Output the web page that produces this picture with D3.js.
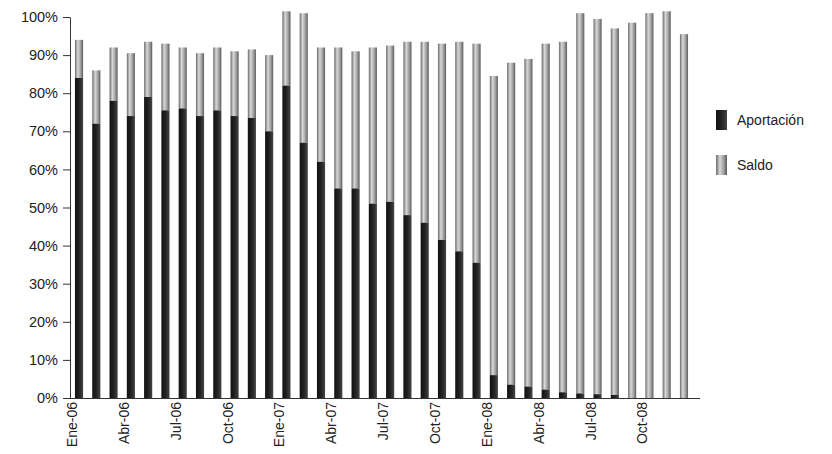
<!DOCTYPE html><html><head><meta charset="utf-8"><script src="https://cdn.jsdelivr.net/npm/d3@7"></script>
<style>body{margin:0;background:#fff}</style></head><body><svg id="c" width="832" height="454"></svg><script>
const months=["Ene","Feb","Mar","Abr","May","Jun","Jul","Ago","Sep","Oct","Nov","Dic"];
const categories=[];["06","07","08"].forEach(y=>months.forEach(m=>categories.push(m+"-"+y)));
const aportacion=[84,72,78,74,79,75.5,76,74,75.5,74,73.5,70,82,67,62,55,55,51,51.5,48,46,41.5,38.5,35.5,6,3.5,3,2.2,1.5,1.2,1,0.8,0,0,0,0];
const total=[94,86,92,90.5,93.5,93,92,90.5,92,91,91.5,90,101.5,101,92,92,91,92,92.5,93.5,93.5,93,93.5,93,84.5,88,89,93,93.5,101,99.5,97,98.5,101,101.5,95.5];
const saldo=total.map((t,i)=>t-aportacion[i]);
const yTicks=[0,10,20,30,40,50,60,70,80,90,100];
const tickCats=categories.filter((c,i)=>i%3===0);
const svg=d3.select("#c");
const defs=svg.append("defs");
function grad(id,stops){const g=defs.append("linearGradient").attr("id",id).attr("x1","0").attr("x2","1");stops.forEach(s=>g.append("stop").attr("offset",s[0]).attr("stop-color",s[1]));}
grad("gd",[[0,"#111"],[0.5,"#222"],[1,"#444"]]);
grad("gl",[[0,"#6a6a6a"],[0.35,"#d8d8d8"],[0.7,"#a0a0a0"],[1,"#5a5a5a"]]);
const x=d3.scaleBand().domain(categories).range([71.5,691.5]).paddingInner(0.53).paddingOuter(0.2);
const y=d3.scaleLinear().domain([0,100]).range([398,17]);
const g=svg.append("g");
categories.forEach((c,i)=>{
 g.append("rect").attr("x",x(c)).attr("width",x.bandwidth()).attr("y",y(total[i])).attr("height",y(aportacion[i])-y(total[i])).attr("fill","url(#gl)");
 if(aportacion[i]>0)g.append("rect").attr("x",x(c)).attr("width",x.bandwidth()).attr("y",y(aportacion[i])).attr("height",y(0)-y(aportacion[i])).attr("fill","url(#gd)");
});
const ya=svg.append("g").attr("transform","translate(70,0)").call(d3.axisLeft(y).tickValues(yTicks).tickFormat(d=>d+"%").tickSize(7).tickSizeOuter(0));
ya.select(".domain").attr("stroke","#333");ya.selectAll("line").attr("stroke","#333");
ya.selectAll("text").attr("font-family","Liberation Sans, Arial").attr("font-size",14.5).attr("fill","#222").attr("dx",-2);
svg.append("line").attr("x1",70).attr("x2",700).attr("y1",398.5).attr("y2",398.5).attr("stroke","#333");
svg.append("g").selectAll("text").data(tickCats).join("text")
 .attr("transform",d=>`translate(${x(d)+x.bandwidth()/2-2},402) rotate(-90)`)
 .attr("text-anchor","end").attr("font-family","Liberation Sans, Arial").attr("font-size",14).attr("fill","#222").text(d=>d);
const leg=[["Aportación","url(#gd)",110],["Saldo","url(#gl)",155]];
leg.forEach(l=>{svg.append("rect").attr("x",716).attr("y",l[2]).attr("width",11).attr("height",20).attr("fill",l[1]);
 svg.append("text").attr("x",737).attr("y",l[2]+15).attr("font-family","Liberation Sans, Arial").attr("font-size",14).attr("fill","#222").text(l[0]);});
</script></body></html>
